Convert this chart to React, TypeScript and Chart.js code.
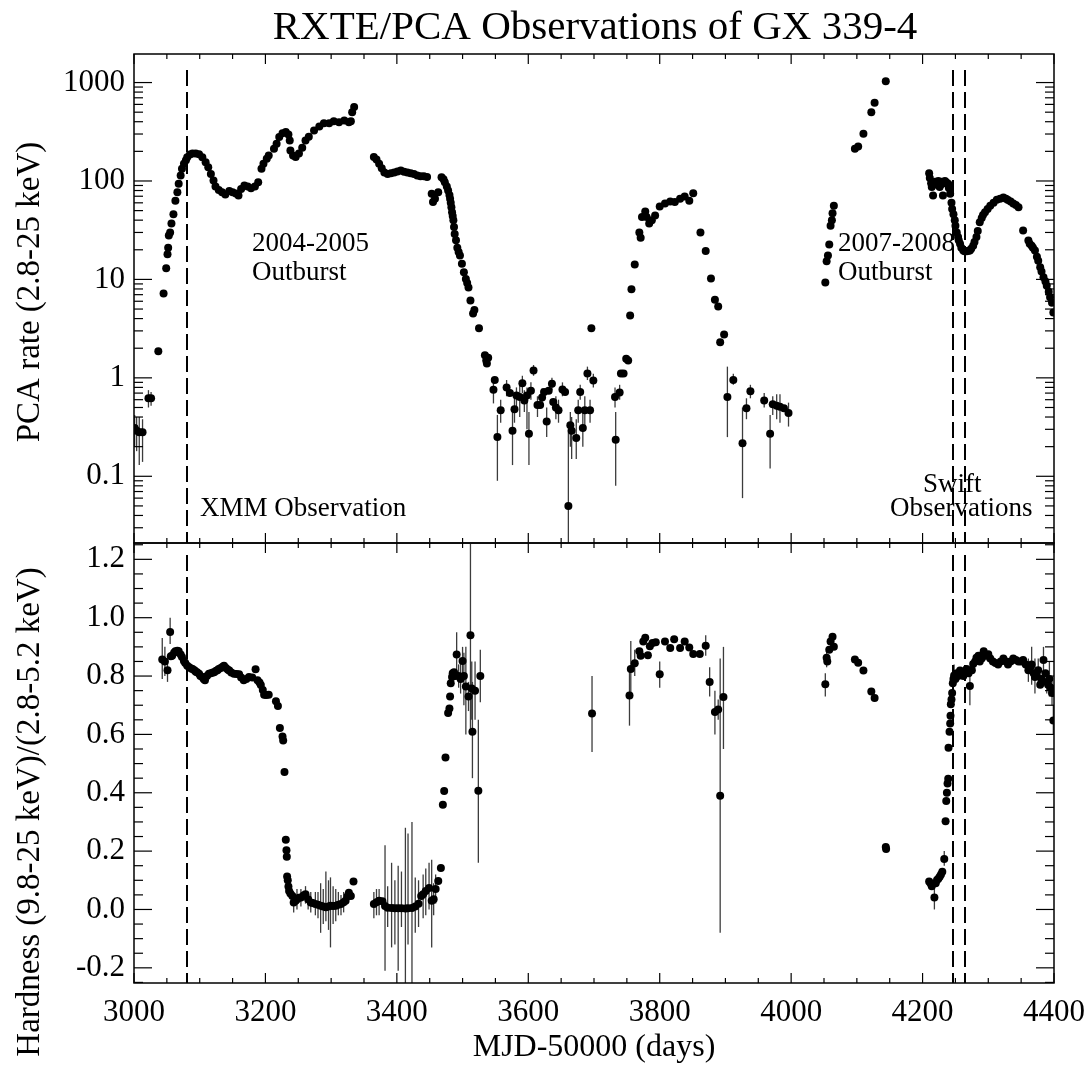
import { useEffect, useRef } from 'react';
import { Chart, registerables } from 'chart.js';

Chart.register(...registerables);

const FONT = '"Liberation Serif", "Times New Roman", serif';

// ---------- data ----------
const xTickValues = [3000, 3200, 3400, 3600, 3800, 4000, 4200, 4400];
const rateTickValues = [0.1, 1, 10, 100, 1000];
const hardTickValues = [-0.2, 0, 0.2, 0.4, 0.6, 0.8, 1.0, 1.2];
const obsLines = [3080, 4246, 4264];

// PCA rate (2.8-25 keV): [MJD-50000, counts/s]
const rateData: [number, number][] = [
  [3001, 0.31], [3004, 0.29], [3008, 0.28], [3013, 0.28], [3022, 0.62], [3026, 0.62],
  [3037, 1.86], [3045, 7.2], [3049, 13], [3051, 18], [3052, 21],
  [3053, 28], [3055, 30], [3057, 37], [3060, 46], [3063, 63], [3066, 77], [3068, 94],
  [3071, 114], [3073, 133], [3076, 150], [3079, 162], [3081, 174], [3085, 186], [3089, 190],
  [3094, 190], [3099, 187], [3104, 174], [3109, 155], [3113, 138], [3117, 118], [3121, 101],
  [3124, 88], [3129, 81], [3134, 77], [3139, 73], [3145, 79], [3150, 77], [3155, 74.5],
  [3159, 71], [3163, 83], [3168, 90], [3173, 88], [3178, 84.5], [3184, 88], [3189, 97],
  [3194, 133], [3197, 150], [3202, 168], [3205, 182],
  [3213, 212], [3217, 239], [3221, 279], [3226, 306], [3231, 314], [3235, 296], [3237, 258],
  [3238, 204], [3242, 182], [3246, 175], [3251, 190], [3256, 217], [3261, 258], [3266, 282],
  [3274, 326], [3282, 358], [3289, 387], [3297, 387], [3304, 405], [3312, 395], [3320, 412],
  [3327, 395], [3330, 405], [3332, 500], [3335, 565],
  [3365, 175], [3369, 165], [3373, 150], [3377, 135], [3381, 122], [3386, 118], [3391, 120],
  [3396, 122], [3401, 125], [3406, 128], [3411, 124], [3416, 122], [3421, 120], [3426, 118],
  [3431, 114], [3436, 112], [3441, 112], [3446, 110], [3453, 74], [3455, 61], [3458, 66],
  [3463, 77], [3468, 109], [3471, 104], [3473, 97], [3476, 88], [3478, 80], [3480, 72],
  [3481, 66], [3482, 60], [3483, 54], [3484, 48], [3485, 44], [3486, 40], [3487, 34],
  [3488, 29], [3490, 25], [3492, 21], [3494, 19], [3496, 17.5], [3499, 14.4], [3502, 11.8],
  [3505, 10.1], [3507, 9.2], [3509, 8.3], [3512, 6.1], [3516, 4.5], [3518, 4.9], [3525, 3.2],
  [3534, 1.7], [3536, 1.5], [3537, 1.4], [3539, 1.6],
  [3547, 0.755], [3549, 0.95], [3553, 0.25], [3558, 0.47], [3567, 0.8], [3572, 0.7],
  [3576, 0.29], [3579, 0.48], [3582, 0.66], [3587, 0.64], [3591, 0.88], [3594, 0.59],
  [3598, 0.66], [3601, 0.27], [3604, 0.74], [3608, 1.19], [3614, 0.53], [3618, 0.53],
  [3621, 0.63], [3624, 0.72], [3628, 0.36], [3631, 0.74], [3636, 0.87], [3638, 0.57],
  [3642, 0.5], [3646, 0.47], [3652, 0.76], [3656, 0.72], [3661, 0.05], [3664, 0.33],
  [3666, 0.29], [3673, 0.245], [3676, 0.47], [3679, 0.72], [3683, 0.31], [3686, 0.47],
  [3690, 1.11], [3694, 0.47], [3696, 3.2], [3699, 0.94],
  [3732, 0.64], [3733, 0.235], [3739, 0.71], [3741, 1.11], [3745, 1.11], [3749, 1.56],
  [3752, 1.5], [3755, 4.3], [3757, 7.95], [3762, 14.2], [3769, 30], [3771, 26.5], [3773, 43],
  [3778, 49], [3780, 43], [3784, 37], [3788, 40], [3793, 44.6], [3800, 55], [3808, 59],
  [3816, 62], [3823, 61], [3831, 66], [3838, 69.6], [3845, 63], [3851, 75],
  [3862, 30], [3870, 19.4], [3878, 10.2], [3884, 6.2], [3889, 5.3], [3892, 2.3], [3898, 2.75],
  [3903, 0.64], [3912, 0.95], [3926, 0.216], [3932, 0.49], [3938, 0.73], [3959, 0.59],
  [3968, 0.27], [3972, 0.54], [3978, 0.52], [3983, 0.51], [3989, 0.49], [3996, 0.44],
  [4052, 9.3], [4054, 15.3], [4056, 17.5], [4058, 22.6], [4060, 35], [4062, 40], [4063, 47],
  [4065, 56], [4097, 212], [4102, 224], [4110, 302], [4122, 500], [4127, 624], [4144, 1033],
  [4210, 120], [4211, 107], [4213, 95], [4214, 87], [4216, 71], [4218, 95], [4219, 98],
  [4221, 92], [4224, 100], [4226, 87], [4228, 92], [4229, 98], [4231, 71], [4233, 95],
  [4234, 100], [4236, 97], [4239, 94], [4240, 85], [4242, 74], [4244, 60], [4245, 52],
  [4247, 46], [4249, 40], [4250, 35], [4252, 30], [4254, 27], [4255, 25], [4257, 23],
  [4259, 21], [4262, 19.7], [4264, 19.3], [4267, 19.3], [4270, 19.5], [4272, 19.7],
  [4274, 20.5], [4277, 22], [4279, 24], [4282, 27], [4284, 31], [4287, 38], [4290, 42],
  [4292, 45], [4295, 48], [4299, 52], [4303, 56], [4308, 60], [4313, 64.5], [4318, 66],
  [4323, 68], [4327, 66], [4330, 64], [4334, 62], [4338, 59], [4342, 57], [4346, 54],
  [4353, 31.4], [4361, 24.8], [4363, 23], [4366, 22], [4368, 21], [4371, 19.7], [4374, 17],
  [4376, 15.5], [4379, 13.3], [4381, 12], [4384, 10.5], [4387, 9.5], [4389, 8.6], [4392, 7.5],
  [4394, 6.6], [4397, 5.8], [4399, 4.6],
];

// rate error bars: [MJD-50000, low, high]
const rateErr: [number, number, number][] = [
  [3001, 0.2, 0.42], [3004, 0.18, 0.4], [3008, 0.13, 0.4], [3013, 0.14, 0.38],
  [3022, 0.5, 0.75], [3026, 0.52, 0.72],
  [3547, 0.55, 0.95], [3553, 0.09, 0.42], [3558, 0.35, 0.6], [3567, 0.65, 0.95],
  [3576, 0.13, 0.45], [3579, 0.35, 0.62], [3582, 0.5, 0.8], [3587, 0.4, 0.9],
  [3591, 0.7, 1.05], [3594, 0.45, 0.75], [3598, 0.3, 0.8], [3601, 0.13, 0.45],
  [3604, 0.6, 0.9], [3608, 1.05, 1.35], [3614, 0.4, 0.65], [3621, 0.5, 0.78],
  [3628, 0.25, 0.5], [3636, 0.75, 1.0], [3642, 0.38, 0.65], [3646, 0.35, 0.6],
  [3652, 0.65, 0.9], [3661, 0.01, 0.3], [3664, 0.2, 0.45], [3666, 0.15, 0.4],
  [3673, 0.15, 0.38], [3676, 0.35, 0.6], [3679, 0.6, 0.85], [3683, 0.2, 0.45],
  [3686, 0.3, 0.65], [3690, 0.95, 1.3], [3694, 0.35, 0.6], [3699, 0.8, 1.1],
  [3733, 0.08, 0.45], [3732, 0.5, 0.8], [3739, 0.6, 0.85], [3903, 0.25, 1.3],
  [3912, 0.85, 1.1], [3926, 0.06, 0.5], [3932, 0.38, 0.62], [3938, 0.62, 0.85],
  [3959, 0.5, 0.7], [3968, 0.12, 0.42], [3972, 0.42, 0.65], [3978, 0.38, 0.68],
  [3983, 0.35, 0.68], [3996, 0.32, 0.56],
];

// Hardness (9.8-25 keV)/(2.8-5.2 keV): [MJD-50000, ratio]
const hardData: [number, number][] = [
  [3043, 0.857], [3047, 0.85], [3051, 0.82], [3055, 0.951], [3056, 0.868], [3058, 0.87],
  [3061, 0.88], [3063, 0.885], [3066, 0.887], [3068, 0.885], [3071, 0.874], [3073, 0.865],
  [3076, 0.852], [3078, 0.845], [3081, 0.835], [3084, 0.83], [3087, 0.826], [3089, 0.824],
  [3092, 0.82], [3094, 0.815], [3096, 0.813], [3099, 0.808], [3101, 0.8], [3104, 0.797],
  [3106, 0.79], [3108, 0.786], [3111, 0.8], [3114, 0.808], [3117, 0.81], [3120, 0.812],
  [3122, 0.813], [3125, 0.818], [3127, 0.82], [3129, 0.824], [3132, 0.828], [3135, 0.832],
  [3137, 0.835], [3140, 0.828], [3143, 0.822], [3145, 0.819], [3148, 0.812], [3152, 0.808],
  [3156, 0.807], [3160, 0.806], [3163, 0.795], [3167, 0.786], [3171, 0.79], [3175, 0.797],
  [3180, 0.795], [3185, 0.823], [3188, 0.786], [3191, 0.778], [3193, 0.769], [3196, 0.752],
  [3198, 0.736], [3201, 0.735], [3205, 0.736], [3216, 0.714], [3219, 0.697], [3222, 0.622],
  [3226, 0.593], [3227, 0.579], [3229, 0.471], [3231, 0.239], [3232, 0.203], [3232.5, 0.181],
  [3233, 0.113], [3234, 0.1], [3235, 0.079], [3236, 0.063], [3238, 0.055], [3241, 0.046],
  [3243, 0.024], [3246, 0.03], [3248, 0.035], [3251, 0.04], [3254, 0.041], [3258, 0.048],
  [3261, 0.052], [3265, 0.035], [3269, 0.024], [3272, 0.022], [3276, 0.019], [3280, 0.016],
  [3284, 0.013], [3288, 0.01], [3292, 0.008], [3296, 0.01], [3299, 0.013], [3303, 0.012],
  [3307, 0.013], [3311, 0.016], [3315, 0.019], [3319, 0.025], [3322, 0.03], [3325, 0.045],
  [3327, 0.057], [3330, 0.046], [3334, 0.096],
  [3365, 0.019], [3369, 0.025], [3373, 0.03], [3378, 0.028], [3382, 0.012], [3386, 0.006],
  [3392, 0.005], [3397, 0.004], [3402, 0.004], [3407, 0.004], [3413, 0.003], [3417, 0.004],
  [3423, 0.005], [3428, 0.01], [3433, 0.02], [3437, 0.046], [3440, 0.052], [3444, 0.063],
  [3449, 0.074], [3453, 0.03], [3456, 0.035], [3459, 0.07], [3463, 0.098], [3467, 0.142],
  [3470, 0.359], [3472, 0.406], [3474, 0.521], [3478, 0.673], [3480, 0.689], [3481, 0.73],
  [3482, 0.775], [3484, 0.797], [3485, 0.81], [3487, 0.813], [3489, 0.8], [3491, 0.874],
  [3494, 0.8], [3497, 0.79], [3500, 0.852], [3502, 0.8], [3505, 0.764], [3509, 0.73],
  [3512, 0.94], [3514, 0.757], [3515, 0.609], [3519, 0.75], [3524, 0.407], [3527, 0.8],
  [3697, 0.672],
  [3754, 0.733], [3756, 0.824], [3762, 0.844], [3769, 0.885], [3771, 0.87], [3775, 0.918],
  [3778, 0.931], [3782, 0.871], [3785, 0.902], [3789, 0.913], [3794, 0.916], [3800, 0.806],
  [3808, 0.918], [3816, 0.896], [3822, 0.926], [3831, 0.896], [3838, 0.918], [3845, 0.898],
  [3851, 0.876], [3861, 0.876], [3870, 0.904], [3876, 0.78], [3884, 0.677], [3889, 0.685],
  [3892, 0.39], [3897, 0.728],
  [4052, 0.772], [4054, 0.863], [4055, 0.85], [4058, 0.89], [4060, 0.918], [4063, 0.935],
  [4065, 0.9], [4097, 0.857], [4102, 0.846], [4110, 0.819], [4122, 0.747], [4127, 0.725],
  [4144, 0.214], [4144.5, 0.207],
  [4210, 0.096], [4212, 0.09], [4214, 0.08], [4218, 0.041], [4220, 0.09], [4222, 0.101],
  [4224, 0.105], [4226, 0.112], [4228, 0.12], [4230, 0.129], [4233, 0.173], [4235, 0.302],
  [4236, 0.372], [4237, 0.4], [4238, 0.432], [4239, 0.448], [4239.5, 0.554], [4241, 0.609],
  [4242, 0.637], [4242.5, 0.664], [4243, 0.703], [4244, 0.72], [4245, 0.742], [4246, 0.775],
  [4247, 0.79], [4248, 0.802], [4250, 0.79], [4252, 0.81], [4254, 0.8], [4257, 0.819],
  [4260, 0.81], [4262, 0.8], [4265, 0.815], [4267, 0.824], [4270, 0.81], [4272, 0.766],
  [4275, 0.82], [4277, 0.841], [4280, 0.85], [4282, 0.863], [4285, 0.87], [4287, 0.85],
  [4290, 0.86], [4293, 0.885], [4296, 0.87], [4300, 0.875], [4303, 0.86], [4307, 0.85],
  [4311, 0.845], [4315, 0.84], [4319, 0.85], [4323, 0.86], [4327, 0.85], [4330, 0.84],
  [4334, 0.85], [4338, 0.86], [4342, 0.855], [4346, 0.85], [4350, 0.85], [4353, 0.855],
  [4357, 0.84], [4361, 0.82], [4364, 0.83], [4366, 0.84], [4369, 0.81], [4371, 0.797],
  [4374, 0.8], [4376, 0.82], [4379, 0.77], [4381, 0.79], [4384, 0.855], [4387, 0.81],
  [4389, 0.78], [4391, 0.77], [4393, 0.79], [4395, 0.76], [4397, 0.742], [4399, 0.648],
];

// hardness error bars: [MJD-50000, low, high]
const hardErr: [number, number, number][] = [
  [3043, 0.79, 0.93], [3047, 0.8, 0.9], [3051, 0.78, 0.86], [3055, 0.91, 1.0],
  [3243, -0.01, 0.06], [3248, 0.0, 0.07], [3254, 0.01, 0.07], [3261, 0.02, 0.08],
  [3265, 0.0, 0.06], [3269, -0.01, 0.06], [3276, -0.02, 0.06], [3280, -0.03, 0.06],
  [3284, -0.08, 0.09], [3288, -0.05, 0.07], [3292, -0.04, 0.13], [3296, -0.07, 0.1],
  [3299, -0.13, 0.11], [3303, -0.05, 0.08], [3307, -0.04, 0.07], [3311, -0.02, 0.06],
  [3315, -0.02, 0.05], [3319, -0.01, 0.06],
  [3365, -0.03, 0.06], [3369, -0.02, 0.07], [3373, -0.02, 0.07], [3382, -0.21, 0.22],
  [3386, -0.06, 0.08], [3392, -0.13, 0.16], [3397, -0.12, 0.1], [3402, -0.21, 0.15],
  [3407, -0.06, 0.13], [3413, -0.26, 0.28], [3417, -0.12, 0.26], [3423, -0.26, 0.3],
  [3428, -0.08, 0.11], [3433, -0.06, 0.1], [3440, -0.03, 0.12], [3444, -0.02, 0.14],
  [3449, 0.0, 0.16], [3453, -0.13, 0.17], [3456, -0.02, 0.09], [3459, 0.02, 0.12],
  [3491, 0.8, 0.95], [3494, 0.76, 0.84], [3497, 0.74, 0.85], [3500, 0.8, 0.9],
  [3502, 0.7, 0.88], [3505, 0.6, 0.9], [3509, 0.68, 0.78], [3512, 0.62, 1.3],
  [3514, 0.65, 0.85], [3515, 0.45, 0.78], [3519, 0.65, 0.85], [3524, 0.16, 0.65],
  [3527, 0.71, 0.89],
  [3697, 0.54, 0.8], [3754, 0.63, 0.83], [3756, 0.73, 0.92], [3762, 0.8, 0.89],
  [3800, 0.76, 0.85], [3870, 0.87, 0.94], [3876, 0.73, 0.83], [3884, 0.6, 0.75],
  [3889, 0.65, 0.72], [3892, -0.08, 0.86], [3897, 0.55, 0.9],
  [4052, 0.73, 0.81], [4054, 0.83, 0.89], [4218, 0.0, 0.08], [4233, 0.15, 0.2],
  [4248, 0.77, 0.84], [4272, 0.7, 0.82], [4361, 0.78, 0.86], [4366, 0.77, 0.9],
  [4371, 0.74, 0.86], [4376, 0.78, 0.86], [4384, 0.81, 0.9], [4389, 0.74, 0.82],
  [4393, 0.73, 0.85], [4397, 0.7, 0.78], [4399, 0.6, 0.7],
];

// ---------- helpers ----------
const W = 1091;
const H = 1066;

function line(ctx: CanvasRenderingContext2D, x1: number, y1: number, x2: number, y2: number) {
  ctx.beginPath();
  ctx.moveTo(x1, y1);
  ctx.lineTo(x2, y2);
  ctx.stroke();
}

function makeAxesPlugin(isLog: boolean, dashStartOffset: number) {
  return {
    id: 'axesFrame',
    beforeDatasetsDraw(chart: any) {
      const { ctx, chartArea: a, scales } = chart;
      const xs = scales.x;
      const ys = scales.y;
      const errs = isLog ? rateErr : hardErr;
      ctx.save();
      ctx.beginPath();
      ctx.rect(a.left, a.top, a.right - a.left, a.bottom - a.top);
      ctx.clip();
      ctx.strokeStyle = '#3c3c3c';
      ctx.lineWidth = 1.3;
      errs.forEach(([m, lo, hi]) => {
        const px = xs.getPixelForValue(m);
        line(ctx, px, ys.getPixelForValue(lo), px, ys.getPixelForValue(hi));
      });
      // dashed observation markers
      ctx.strokeStyle = '#000';
      ctx.lineWidth = 2;
      ctx.setLineDash([16, 6]);
      obsLines.forEach((m) => {
        const px = Math.round(xs.getPixelForValue(m));
        line(ctx, px, a.top + dashStartOffset, px, a.bottom);
      });
      ctx.setLineDash([]);
      ctx.restore();
    },
    afterDatasetsDraw(chart: any) {
      const { ctx, chartArea: a, scales } = chart;
      const xs = scales.x;
      const ys = scales.y;
      ctx.save();
      ctx.strokeStyle = '#000';
      ctx.lineWidth = 1.5;
      ctx.strokeRect(a.left, a.top, a.right - a.left, a.bottom - a.top);
      ctx.lineWidth = 1.2;
      // x ticks (major every 200, minor every 50)
      for (let v = xTickValues[0]; v <= xTickValues[xTickValues.length - 1]; v += 50) {
        const px = xs.getPixelForValue(v);
        const len = xTickValues.includes(v) ? 10 : 5;
        line(ctx, px, a.top, px, a.top + len);
        line(ctx, px, a.bottom, px, a.bottom - len);
      }
      // y ticks
      const yTick = (v: number, len: number) => {
        const py = ys.getPixelForValue(v);
        if (py < a.top - 0.5 || py > a.bottom + 0.5) return;
        line(ctx, a.left, py, a.left + len, py);
        line(ctx, a.right, py, a.right - len, py);
      };
      if (isLog) {
        for (let d = 0.01; d < 5000; d *= 10) {
          for (let k = 1; k <= 9; k++) {
            const v = +(k * d).toPrecision(3);
            if (v < ys.min || v > ys.max) continue;
            yTick(v, k === 1 ? 18 : 9);
          }
        }
      } else {
        for (let i = -5; i <= 25; i++) {
          const v = i * 0.05;
          if (v < ys.min || v > ys.max) continue;
          yTick(v, i % 4 === 0 ? 18 : 9);
        }
      }
      ctx.restore();
    },
  };
}

function drawText(
  ctx: CanvasRenderingContext2D,
  text: string,
  x: number,
  y: number,
  size: number,
  align: CanvasTextAlign,
  rotate = false,
) {
  ctx.save();
  ctx.font = `${size}px ${FONT}`;
  ctx.fillStyle = '#000';
  ctx.textAlign = align;
  ctx.textBaseline = 'alphabetic';
  ctx.translate(x, y);
  if (rotate) ctx.rotate(-Math.PI / 2);
  ctx.fillText(text, 0, 0);
  ctx.restore();
}

const topTextPlugin = {
  id: 'topText',
  afterDraw(chart: any) {
    const ctx = chart.ctx;
    drawText(ctx, 'RXTE/PCA Observations of GX 339-4', 595, 39, 41, 'center');
    drawText(ctx, 'PCA rate (2.8-25 keV)', 39, 292, 33, 'center', true);
    drawText(ctx, '2004-2005', 252, 251, 27, 'left');
    drawText(ctx, 'Outburst', 252, 280, 27, 'left');
    drawText(ctx, 'XMM Observation', 200, 516, 27, 'left');
    drawText(ctx, '2007-2008', 838, 251, 27, 'left');
    drawText(ctx, 'Outburst', 838, 280, 27, 'left');
    drawText(ctx, 'Swift', 923, 492, 27, 'left');
    drawText(ctx, 'Observations', 890, 516, 27, 'left');
  },
};

const bottomTextPlugin = {
  id: 'bottomText',
  afterDraw(chart: any) {
    const ctx = chart.ctx;
    drawText(ctx, 'Hardness (9.8-25 keV)/(2.8-5.2 keV)', 39, 812, 33, 'center', true);
    drawText(ctx, 'MJD-50000 (days)', 594, 1056, 32, 'center');
  },
};

const tickFont = { family: FONT, size: 31 };

export default function App() {
  const topRef = useRef<HTMLCanvasElement | null>(null);
  const botRef = useRef<HTMLCanvasElement | null>(null);

  useEffect(() => {
    if (!topRef.current || !botRef.current) return;

    const pointStyle = {
      pointRadius: 4,
      pointBackgroundColor: '#000',
      pointBorderWidth: 0,
      pointHoverRadius: 4,
      showLine: false,
    };

    const top = new Chart(topRef.current, {
      type: 'scatter',
      data: {
        datasets: [{ data: rateData.map(([x, y]) => ({ x, y })), ...pointStyle }],
      },
      options: {
        animation: false,
        responsive: false,
        events: [],
        layout: { padding: { left: 0, top: 54, right: 37, bottom: H - 543 } },
        plugins: { legend: { display: false }, tooltip: { enabled: false } },
        scales: {
          x: { type: 'linear', min: 3000, max: 4400, display: false },
          y: {
            type: 'logarithmic',
            min: 0.021,
            max: 1950,
            afterFit: (s: any) => {
              s.width = 134;
              s.paddingTop = 0;
              s.paddingBottom = 0;
            },
            afterBuildTicks: (s: any) => {
              s.ticks = rateTickValues.map((v) => ({ value: v }));
            },
            ticks: {
              font: tickFont,
              color: '#000',
              padding: 9,
              callback: (v: any) => String(v),
            },
            grid: { display: false, drawTicks: false },
            border: { display: false },
          },
        },
      } as any,
      plugins: [makeAxesPlugin(true, 16), topTextPlugin],
    });

    const bottom = new Chart(botRef.current, {
      type: 'scatter',
      data: {
        datasets: [{ data: hardData.map(([x, y]) => ({ x, y })), ...pointStyle }],
      },
      options: {
        animation: false,
        responsive: false,
        events: [],
        layout: { padding: { left: 0, top: 543, right: 37, bottom: 0 } },
        plugins: { legend: { display: false }, tooltip: { enabled: false } },
        scales: {
          x: {
            type: 'linear',
            min: 3000,
            max: 4400,
            afterFit: (s: any) => {
              s.height = H - 983;
              s.paddingLeft = 0;
              s.paddingRight = 0;
            },
            afterBuildTicks: (s: any) => {
              s.ticks = xTickValues.map((v) => ({ value: v }));
            },
            ticks: {
              font: tickFont,
              color: '#000',
              padding: 11,
              maxRotation: 0,
              autoSkip: false,
              callback: (v: any) => String(v),
            },
            grid: { display: false, drawTicks: false },
            border: { display: false },
          },
          y: {
            type: 'linear',
            min: -0.252,
            max: 1.256,
            afterFit: (s: any) => {
              s.width = 134;
              s.paddingTop = 0;
              s.paddingBottom = 0;
            },
            afterBuildTicks: (s: any) => {
              s.ticks = hardTickValues.map((v) => ({ value: v }));
            },
            ticks: {
              font: tickFont,
              color: '#000',
              padding: 9,
              callback: (v: any) => Number(v).toFixed(1),
            },
            grid: { display: false, drawTicks: false },
            border: { display: false },
          },
        },
      } as any,
      plugins: [makeAxesPlugin(false, 12), bottomTextPlugin],
    });

    return () => {
      top.destroy();
      bottom.destroy();
    };
  }, []);

  const cstyle: React.CSSProperties = {
    position: 'absolute',
    left: 0,
    top: 0,
    width: W,
    height: H,
  };

  return (
    <div style={{ position: 'absolute', left: 0, top: 0, width: W, height: H, background: '#fff' }}>
      <canvas ref={topRef} width={W} height={H} style={cstyle} />
      <canvas ref={botRef} width={W} height={H} style={cstyle} />
    </div>
  );
}
